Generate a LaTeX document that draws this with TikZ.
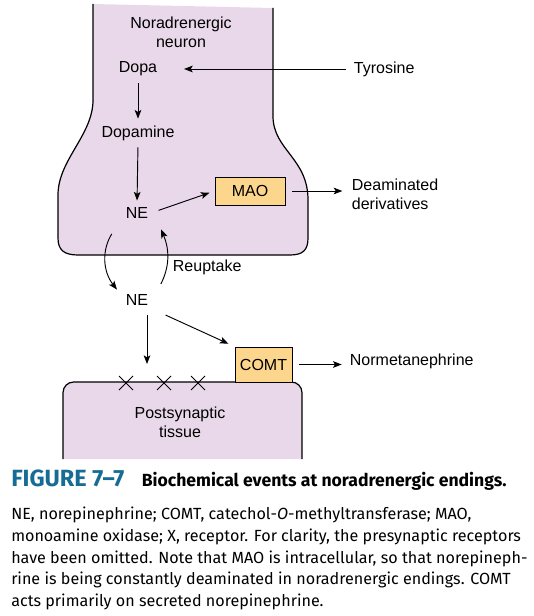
\documentclass[tikz,border=0pt]{standalone}
\usepackage{fontspec}
\setmainfont{Liberation Sans}
\newfontfamily\capfont{Fira Sans}
\usetikzlibrary{arrows.meta,calc,positioning}
\definecolor{neuronpink}{RGB}{233,216,233}
\definecolor{enzorange}{RGB}{252,214,140}
\definecolor{figteal}{RGB}{22,108,148}
\tikzset{
  membrane/.style={draw=black,line width=0.9pt,fill=neuronpink},
  flow/.style={-{Stealth[length=6.5pt,width=5pt,inset=1.5pt]},line width=0.7pt},
  enzyme/.style={draw=black,line width=0.7pt,fill=enzorange,inner sep=0pt,
                 font=\fontsize{12}{15}\selectfont},
  lab/.style={font=\fontsize{12}{15}\selectfont,inner sep=2pt,align=center},
  receptor/.style={black,line width=0.7pt},
}

\begin{document}
\begin{tikzpicture}[x=0.75pt,y=-0.75pt]
  \useasboundingbox (0,0) rectangle (533,616);
  % presynaptic ending and postsynaptic cell
  \path[membrane] (93,4) -- (93,100) .. controls (93,135) and (58,160) .. (58,195)
    -- (58,238) .. controls (58,250) and (64,255) .. (78,255) -- (290,255)
    .. controls (303,255) and (308,250) .. (308,238) -- (308,200)
    .. controls (308,158) and (273,150) .. (273,116) -- (273,8);
  \path[membrane,rounded corners=8] (63,459) -- (63,382) -- (302,382) -- (302,459);
  \foreach \x in {126,164,198}
    \draw[receptor] (\x-7,376) -- (\x+7,390) (\x-7,390) -- (\x+7,376);

  \node[lab] (neuron) at (181,32) {Noradrenergic\\[-1pt]neuron};
  \node[lab] (dopa) at (138,69) {Dopa};
  \node[lab,anchor=west] (tyr) at (351,69) {Tyrosine};
  \node[lab] (dopamine) at (138,133) {Dopamine};
  \node[lab] (ne) at (137,213) {NE};
  \node[enzyme,minimum width=52.5pt,minimum height=21pt] (mao) at (250,191) {MAO};
  \node[lab,anchor=west,align=left] (deam) at (349,194) {Deaminated\\[-1pt]derivatives};
  \node[lab,anchor=west] (reup) at (170,267) {Reuptake};
  \node[lab] (nesyn) at (137,300) {NE};
  \node[enzyme,minimum width=42.75pt,minimum height=26.25pt] (comt) at (263.5,364.5) {COMT};
  \node[lab,anchor=west] (normet) at (347,361) {Normetanephrine};
  \node[lab] (post) at (180,422) {Postsynaptic\\[-1pt]tissue};
  \coordinate (rcpt) at (147,364);

  \draw[flow,shorten <=4pt,shorten >=18pt] (tyr.west) -- (dopa.east);
  \draw[flow,shorten <=3pt,shorten >=3pt] (dopa.south) -- (dopamine.north);
  \draw[flow,shorten <=3pt,shorten >=3pt] (dopamine.south) -- (ne.north);
  \draw[flow,shorten <=6pt,shorten >=4pt] (ne.east) -- (mao.west);
  \draw[flow,shorten <=5pt,shorten >=5pt] (mao.east) -- (mao.east -| deam.west);
  \draw[flow,shorten <=3pt] ($(ne.south west)+(-9,9)$) to[bend right=35] ($(nesyn.north west)+(-6,-2)$);
  \draw[flow,shorten <=3pt] ($(nesyn.north east)+(8,-4)$) to[bend right=25] ($(ne.south east)+(10,8)$);
  \draw[flow,shorten <=5pt] (nesyn.south -| rcpt) -- (rcpt);
  \draw[flow,shorten <=12pt,shorten >=5pt] (nesyn.south east) -- (comt.north west);
  \draw[flow,shorten <=5pt,shorten >=4pt] (comt.east) -- (comt.east -| normet.west);

  % caption
  \node[anchor=base west,inner sep=0pt,font=\capfont] (title) at (11,486)
    {{\color{figteal}\fontsize{17.6}{20}\selectfont\bfseries FIGURE 7–7}\hspace{13pt}{\fontsize{13.2}{14}\selectfont\bfseries Biochemical events at noradrenergic endings.}};
  \node[anchor=north west,inner sep=0pt,align=left,font=\capfont\fontsize{12.1}{16.2}\selectfont] (body) at (11,507)
    {NE, norepinephrine; COMT, catechol-\textit{O}-methyltransferase; MAO,\\
     monoamine oxidase; X, receptor. For clarity, the presynaptic receptors\\
     have been omitted. Note that MAO is intracellular, so that norepineph-\\
     rine is being constantly deaminated in noradrenergic endings. COMT\\
     acts primarily on secreted norepinephrine.};
\end{tikzpicture}
\end{document}
